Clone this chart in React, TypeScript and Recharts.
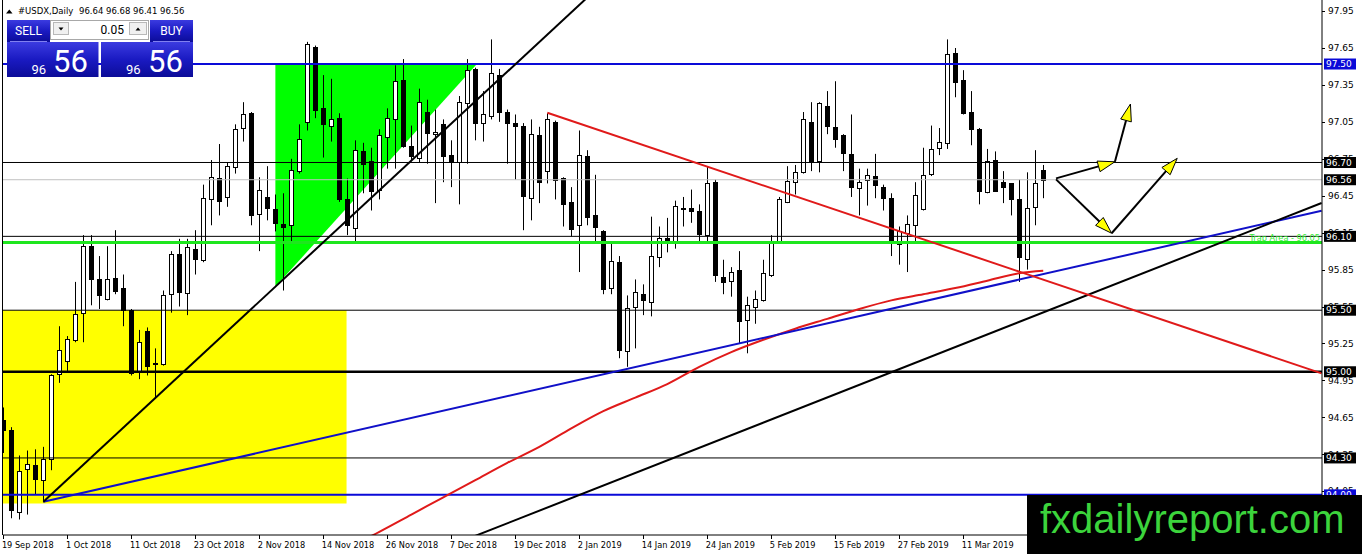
import React from 'react';
import { ComposedChart, Bar, Line, XAxis, YAxis, ReferenceLine, ReferenceArea, ReferenceDot } from 'recharts';

// ---- candle data (daily bars, index 0 = 19 Sep 2018) ----
const opens = [94.61,94.53,93.86,94.21,94.24,94.12,94.29,94.98,95.09,95.26,
95.48,96.02,95.75,95.59,95.76,95.68,95.50,95.01,95.33,95.06,
95.06,95.63,95.96,95.64,96.00,95.91,96.40,96.57,96.42,96.66,
96.98,97.10,96.28,96.42,96.32,96.20,96.19,96.63,97.03,97.64,
97.14,97.00,97.06,96.40,96.17,96.79,96.71,96.48,96.91,97.05,
97.37,96.83,96.74,97.11,96.93,97.01,96.76,96.70,97.18,97.46,
97.02,97.08,97.41,97.11,97.02,97.00,96.41,96.92,96.63,97.03,
96.57,96.38,96.19,96.75,96.27,96.14,95.68,95.89,95.17,95.53,
95.63,95.57,95.93,96.09,96.05,96.33,96.33,96.31,96.11,96.54,
95.77,95.74,95.83,95.42,95.53,95.58,95.79,96.06,96.38,96.54,
96.62,97.03,96.71,97.16,96.99,96.92,96.77,96.49,96.56,96.59,
96.50,96.41,96.04,96.13,96.19,96.32,96.61,96.82,96.86,97.59,
97.37,97.11,96.97,96.46,96.72,96.54,96.53,96.40,95.92,96.34,
96.64];
const highs = [94.71,94.55,94.32,94.36,94.37,94.39,94.98,95.37,95.29,95.73,
96.11,96.11,95.94,96.02,96.15,95.79,95.51,95.34,95.36,95.19,
95.66,95.98,96.08,96.08,96.15,96.52,96.72,96.85,96.70,97.01,
97.19,97.11,96.58,96.67,96.44,96.45,96.73,97.01,97.68,97.65,
97.41,97.38,97.10,96.57,96.88,96.86,96.82,96.97,97.14,97.49,
97.54,97.00,97.30,97.21,97.13,97.05,96.88,97.24,97.54,97.47,
97.28,97.70,97.46,97.13,97.09,97.02,97.05,96.99,97.10,97.04,
96.58,96.50,96.96,96.80,96.60,96.15,96.04,95.94,95.62,95.75,
95.71,96.26,96.18,96.25,96.39,96.42,96.48,96.36,96.67,96.56,
95.91,95.85,95.98,95.61,95.66,95.91,96.11,96.42,96.67,96.68,
97.11,97.19,97.19,97.28,97.36,96.93,97.09,96.65,96.65,96.77,
96.52,96.45,96.18,96.27,96.54,96.82,97.00,96.98,97.70,97.63,
97.45,97.28,96.98,96.81,96.79,96.63,96.53,96.56,96.62,96.80,
96.68];
const lows = [94.34,93.81,93.80,93.84,94.00,93.94,94.20,94.91,94.99,95.24,
95.24,95.54,95.51,95.58,95.63,95.37,94.97,94.94,94.97,94.78,
95.05,95.48,95.53,95.46,95.79,95.89,96.19,96.27,96.34,96.61,
96.87,96.19,95.98,96.23,96.14,95.66,96.06,96.61,96.96,97.06,
96.74,96.87,96.38,96.11,96.04,96.45,96.31,96.40,96.65,96.65,
96.82,96.71,96.70,96.69,96.37,96.54,96.50,96.36,96.69,96.88,
96.87,97.05,97.03,96.69,96.56,96.15,96.23,96.37,96.53,96.40,
96.18,96.10,95.81,96.19,96.04,95.63,95.63,95.11,95.04,95.19,
95.46,95.45,95.85,95.97,96.00,96.18,96.21,96.04,96.04,95.73,
95.63,95.61,95.23,95.15,95.39,95.57,95.77,96.04,96.37,96.44,
96.61,96.63,96.62,96.93,96.82,96.63,96.42,96.27,96.35,96.41,
96.31,95.94,95.87,95.81,96.06,96.31,96.59,96.76,96.81,97.23,
97.09,96.84,96.36,96.45,96.47,96.37,96.27,95.73,95.83,96.19,
96.41];
const closes = [94.53,93.88,94.19,94.25,94.13,94.29,94.97,95.18,95.27,95.47,
96.02,95.75,95.62,95.75,95.66,95.50,94.99,95.24,95.05,95.07,
95.62,95.96,95.65,96.01,95.92,96.41,96.58,96.39,96.67,96.97,
97.09,96.27,96.48,96.33,96.21,96.18,96.64,96.89,97.66,97.13,
97.01,97.05,96.40,96.19,96.80,96.69,96.47,96.92,97.06,97.36,
96.83,96.75,97.19,96.94,96.95,96.75,96.70,97.19,97.45,97.02,
97.09,97.43,97.11,97.02,97.00,96.43,96.93,96.54,97.05,96.56,
96.36,96.16,96.76,96.26,96.18,95.67,95.90,95.18,95.52,95.65,
95.58,95.94,96.09,96.06,96.35,96.32,96.31,96.12,96.53,95.79,
95.73,95.81,95.41,95.54,95.59,95.80,96.06,96.40,96.55,96.62,
97.05,96.71,97.18,97.00,96.89,96.78,96.50,96.54,96.60,96.52,
96.41,96.05,96.14,96.20,96.44,96.60,96.81,96.87,97.58,97.35,
97.10,96.97,96.47,96.71,96.47,96.50,96.40,95.93,96.33,96.53,
96.56];

// moving average (red curve)
const maBars = [44,47,51,55,59,63,67,71,75,79,83,87,91,95,99,103,107,111,115,119,123,127,130];
const maValues = [93.60,93.70,93.84,93.98,94.12,94.26,94.39,94.54,94.68,94.79,94.90,95.04,95.16,95.26,95.35,95.43,95.51,95.58,95.63,95.68,95.74,95.80,95.82];

// axes
const xTickBars = [0,8,16,24,32,40,48,56,64,72,80,88,96,104,112,120];
const xTickLabels = ['19 Sep 2018','1 Oct 2018','11 Oct 2018','23 Oct 2018','2 Nov 2018','14 Nov 2018','26 Nov 2018','7 Dec 2018','19 Dec 2018','2 Jan 2019','14 Jan 2019','24 Jan 2019','5 Feb 2019','15 Feb 2019','27 Feb 2019','11 Mar 2019'];
const yTickValues = [97.95,97.65,97.35,97.05,96.75,96.45,96.15,95.85,95.55,95.25,94.95,94.65,94.35,94.05];
const levelValues = [97.50,96.70,96.56,96.10,95.50,95.00,94.30,94.00];
const levelBoxColors = ['#0a0ad8','#000','#000','#000','#000','#000','#000','#0a0ad8'];
const levelLabels = ['97.50','96.70','96.56','96.10','95.50','95.00','94.30','94.00'];
const X_DOMAIN = [-0.05, 164.85];
const Y_DOMAIN = [93.674, 98.02];

// drawn objects
const trapLevel = 96.05;
const bidLevel = 96.56;
const blackLine1 = [{ x: 5, y: 93.944 }, { x: 80, y: 98.462 }];
const blueLine = [{ x: 5, y: 93.944 }, { x: 164.8, y: 96.308 }];
const blackLine2 = [{ x: 50, y: 93.437 }, { x: 164.8, y: 96.371 }];
const redLine = [{ x: 68, y: 97.104 }, { x: 164.8, y: 94.987 }];
const arrowA = [{ x: 131.6, y: 96.571 }, { x: 138.96, y: 96.706 }, { x: 140.9, y: 97.175 }];
const arrowB = [{ x: 131.6, y: 96.563 }, { x: 138.55, y: 96.125 }, { x: 146.75, y: 96.734 }];
const yellowBox = { x1: -0.05, x2: 42.9, y1: 93.93, y2: 95.50 };
const greenTri = { x1: 34, x2: 59.2, y1: 95.69, y2: 97.50 };

const rows = opens.map((o, i) => ({ i, open: o, high: highs[i], low: lows[i], close: closes[i] }));
const maRows = maBars.map((b, k) => ({ i: b, ma: maValues[k] }));

const FONT = 'DejaVu Sans, Verdana, sans-serif';

const Candle = (props: any) => {
  const { x, y, width, height, payload } = props;
  if (x == null || y == null || !payload) return null;
  const { open, high, low, close } = payload;
  const top = Math.min(y, y + height);
  const bot = Math.max(y, y + height);
  const k = high !== low ? (bot - top) / (high - low) : 0;
  const py = (p: number) => top + (high - p) * k;
  const c = Math.floor(x + width / 2);
  const up = close >= open;
  const bTop = Math.round(py(Math.max(open, close)));
  const bBot = Math.round(py(Math.min(open, close)));
  return (
    <g>
      <line x1={c + 0.5} x2={c + 0.5} y1={top} y2={bot} stroke="#000" strokeWidth={1} />
      {bBot - bTop < 1 ? (
        <line x1={c - 2} x2={c + 3} y1={bTop + 0.5} y2={bTop + 0.5} stroke="#000" strokeWidth={1} />
      ) : (
        <rect x={c - 1.5} y={bTop + 0.5} width={4} height={bBot - bTop} fill={up ? '#fff' : '#000'} stroke="#000" strokeWidth={1} />
      )}
    </g>
  );
};

const YTick = (props: any) => {
  const { x, y, payload } = props;
  const v = payload.value;
  const ax = x - 6;
  const li = levelValues.indexOf(v);
  if (li >= 0) {
    return (
      <g>
        <rect x={ax + 2} y={y - 5.5} width={32} height={11} fill={levelBoxColors[li]} />
        <text x={ax + 4} y={y} dy="0.36em" fontSize={9} fontFamily={FONT} fill="#fff">{levelLabels[li]}</text>
      </g>
    );
  }
  const ty = y + 2.5;
  const ly = Math.round(ty) + 0.5;
  return (
    <g>
      <line x1={ax} x2={ax + 3} y1={ly} y2={ly} stroke="#000" />
      <text x={ax + 6} y={ty} dy="0.36em" fontSize={9} fontFamily={FONT} fill="#000">{v.toFixed(2)}</text>
    </g>
  );
};

const XTick = (props: any) => {
  const { x, y, payload } = props;
  const idx = xTickBars.indexOf(payload.value);
  const axisY = y - 4;
  const px = Math.floor(x) + 0.5;
  return (
    <g>
      <line x1={px} x2={px} y1={axisY} y2={axisY + 4} stroke="#000" />
      <text x={x - 1.5} y={axisY + 13} fontSize={8.2} fontFamily={FONT} fill="#000">{idx >= 0 ? xTickLabels[idx] : ''}</text>
    </g>
  );
};

const TriangleShape = (props: any) => {
  const { x, y, width, height } = props;
  return <polygon points={`${x},${y} ${x + width},${y} ${x},${y + height}`} fill="#00ff00" stroke="none" />;
};

const ArrowShape = (props: any) => {
  const { x1, y1, x2, y2 } = props;
  if ([x1, y1, x2, y2].some((v) => v == null || isNaN(v))) return null;
  const dx = x2 - x1;
  const dy = y2 - y1;
  const len = Math.hypot(dx, dy) || 1;
  const ux = dx / len;
  const uy = dy / len;
  const hl = 17;
  const hw = 5.5;
  const bx = x2 - ux * hl;
  const by = y2 - uy * hl;
  const pts = `${x2},${y2} ${bx - uy * hw},${by + ux * hw} ${bx + uy * hw},${by - ux * hw}`;
  return (
    <g>
      <line x1={x1} y1={y1} x2={bx} y2={by} stroke="#000" strokeWidth={2} />
      <polygon points={pts} fill="#ffff00" stroke="#000" strokeWidth={1} />
    </g>
  );
};

const TrapLabel = (props: any) => {
  const { cx, cy } = props;
  if (cx == null) return null;
  return (
    <text x={cx} y={cy - 1.5} textAnchor="end" fontSize={8.2} fontFamily={FONT} fill="#33ee33">Trap Area - 96.05</text>
  );
};

export default function App() {
  return (
    <div style={{ position: 'relative', width: 1362, height: 554, background: '#fff', overflow: 'hidden' }}>
      <style>{'body{margin:0;}'}</style>
      <ComposedChart width={1362} height={554} data={rows} margin={{ top: 0, right: 0, bottom: 0, left: 3 }}>
        <XAxis
          dataKey="i"
          type="number"
          domain={X_DOMAIN}
          allowDataOverflow
          ticks={xTickBars}
          interval={0}
          tick={<XTick />}
          tickLine={false}
          tickSize={4}
          tickMargin={0}
          height={19}
          axisLine={{ stroke: '#000' }}
        />
        <YAxis
          orientation="right"
          type="number"
          domain={Y_DOMAIN}
          allowDataOverflow
          ticks={[...yTickValues, ...levelValues]}
          interval={0}
          tick={<YTick />}
          tickLine={false}
          tickSize={4}
          tickMargin={2}
          width={40}
          axisLine={{ stroke: '#000' }}
        />
        <ReferenceArea x1={yellowBox.x1} x2={yellowBox.x2} y1={yellowBox.y1} y2={yellowBox.y2} fill="#ffff00" fillOpacity={1} stroke="none" ifOverflow="hidden" />
        <ReferenceArea x1={greenTri.x1} x2={greenTri.x2} y1={greenTri.y1} y2={greenTri.y2} shape={<TriangleShape />} ifOverflow="hidden" />
        <Bar dataKey={(d: any) => [d.low, d.high]} barSize={6} shape={<Candle />} isAnimationActive={false} />
        <ReferenceLine y={bidLevel} stroke="#c0c0c0" strokeWidth={1} ifOverflow="hidden" />
        <ReferenceLine y={96.70} stroke="#000" strokeWidth={1} ifOverflow="hidden" />
        <ReferenceLine y={96.10} stroke="#000" strokeWidth={1} ifOverflow="hidden" />
        <ReferenceLine y={95.50} stroke="#000" strokeWidth={1} ifOverflow="hidden" />
        <ReferenceLine y={94.30} stroke="#000" strokeWidth={1} ifOverflow="hidden" />
        <ReferenceLine y={95.00} stroke="#000" strokeWidth={2.5} ifOverflow="hidden" />
        <ReferenceLine y={trapLevel} stroke="#1ee61e" strokeWidth={3} ifOverflow="hidden" />
        <ReferenceLine y={97.50} stroke="#0a0ad8" strokeWidth={2} ifOverflow="hidden" />
        <ReferenceLine y={94.00} stroke="#0a0ad8" strokeWidth={2} ifOverflow="hidden" />
        <Line data={maRows} dataKey="ma" type="monotone" stroke="#e01a1a" strokeWidth={2} dot={false} activeDot={false} isAnimationActive={false} />
        <ReferenceLine segment={blueLine} stroke="#1010c8" strokeWidth={2} ifOverflow="hidden" />
        <ReferenceLine segment={blackLine1} stroke="#000" strokeWidth={2} ifOverflow="hidden" />
        <ReferenceLine segment={blackLine2} stroke="#000" strokeWidth={2} ifOverflow="hidden" />
        <ReferenceLine segment={redLine} stroke="#e01a1a" strokeWidth={2} ifOverflow="hidden" />
        <ReferenceLine segment={[arrowA[0], arrowA[1]]} shape={<ArrowShape />} ifOverflow="hidden" />
        <ReferenceLine segment={[arrowA[1], arrowA[2]]} shape={<ArrowShape />} ifOverflow="hidden" />
        <ReferenceLine segment={[arrowB[0], arrowB[1]]} shape={<ArrowShape />} ifOverflow="hidden" />
        <ReferenceLine segment={[arrowB[1], arrowB[2]]} shape={<ArrowShape />} ifOverflow="hidden" />
        <ReferenceDot x={164.6} y={trapLevel} r={0} shape={<TrapLabel />} />
      </ComposedChart>
      <svg width={1362} height={554} style={{ position: 'absolute', left: 0, top: 0, pointerEvents: 'none' }}>
        <defs>
          <linearGradient id="pg" x1="0" y1="0" x2="0" y2="1">
            <stop offset="0" stopColor="#3b3be0" />
            <stop offset="0.5" stopColor="#1a1ac2" />
            <stop offset="1" stopColor="#0c0c98" />
          </linearGradient>
        </defs>
        <line x1={2.5} x2={2.5} y1={0} y2={535} stroke="#000" />
        {/* header */}
        <polygon points="6,13.5 12.5,13.5 9.25,9.5" fill="#000" />
        <text x={18} y={14} fontSize={8.5} fontFamily={FONT} fill="#000">#USDX,Daily</text>
        <text x={79} y={14} fontSize={8.5} fontFamily={FONT} fill="#000">96.64 96.68 96.41 96.56</text>
        {/* one-click panel */}
        <rect x={7} y={20} width={43} height={22} fill="url(#pg)" />
        <rect x={150} y={20} width={43} height={22} fill="url(#pg)" />
        <rect x={7} y={42} width={91.5} height={35} fill="url(#pg)" />
        <rect x={101} y={42} width={92} height={35} fill="url(#pg)" />
        <line x1={10} x2={47} y1={41.5} y2={41.5} stroke="#8080f0" />
        <line x1={153} x2={190} y1={41.5} y2={41.5} stroke="#8080f0" />
        <text x={28.5} y={35} textAnchor="middle" fontSize={12} fontFamily="Roboto, sans-serif" fill="#fff">SELL</text>
        <text x={171.5} y={35} textAnchor="middle" fontSize={12} fontFamily="Roboto, sans-serif" fill="#fff">BUY</text>
        <rect x={50.5} y={20.5} width={98} height={19} fill="#fff" stroke="#a8a8a8" />
        <rect x={53.5} y={22.5} width={15} height={12} fill="#f0f0f0" stroke="#b8b8b8" />
        <polygon points="58.5,27.5 63.5,27.5 61,30.5" fill="#000" />
        <rect x={129.5} y={22.5} width={17} height={12} fill="#f0f0f0" stroke="#b8b8b8" />
        <polygon points="135.5,30.5 140.5,30.5 138,27.5" fill="#000" />
        <text x={124} y={34} textAnchor="end" fontSize={12} fontFamily="Roboto, sans-serif" fill="#000">0.05</text>
        <text x={31.5} y={74} fontSize={13} fontFamily="Roboto, sans-serif" fill="#fff">96</text>
        <text x={53} y={71.5} fontSize={31} fontFamily="Roboto, sans-serif" fill="#fff">56</text>
        <text x={126} y={74} fontSize={13} fontFamily="Roboto, sans-serif" fill="#fff">96</text>
        <text x={148} y={71.5} fontSize={31} fontFamily="Roboto, sans-serif" fill="#fff">56</text>
        {/* watermark */}
        <rect x={1027} y={495} width={335} height={59} fill="#000" />
        <text x={1040} y={533} fontSize={40} fontFamily="Liberation Sans, Arial, sans-serif" fill="#3cd43c">fxdailyreport.com</text>
      </svg>
    </div>
  );
}
